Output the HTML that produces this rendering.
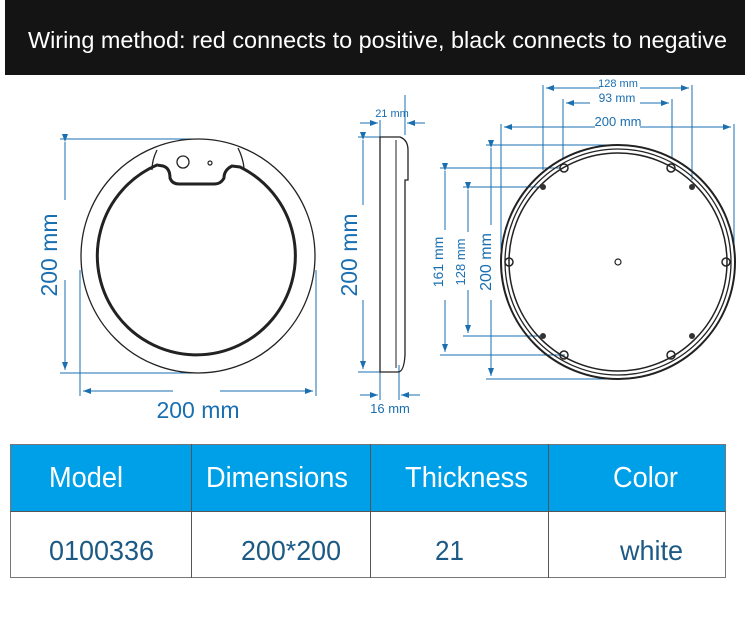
<!DOCTYPE html>
<html><head><style>
body{margin:0;width:750px;height:629px;background:#fff;overflow:hidden;font-family:"Liberation Sans",sans-serif}
</style></head><body>
<svg width="750" height="629" xmlns="http://www.w3.org/2000/svg" style="position:absolute;left:0;top:0">
<defs><marker id="a" markerWidth="8" markerHeight="6" refX="8" refY="3" orient="auto" markerUnits="userSpaceOnUse"><path d="M0,0L8,3L0,6z" fill="#1a6fb0"/></marker></defs>
<rect x="5" y="0" width="740" height="75" fill="#141414"/>
<text x="28" y="48" fill="#fff" font-size="23" textLength="699" lengthAdjust="spacingAndGlyphs">Wiring method: red connects to positive, black connects to negative</text>
<g fill="none" stroke="#1a6fb0" stroke-width="1">
<line x1="60" y1="139" x2="200" y2="139"/><line x1="60" y1="373" x2="200" y2="373"/>
<line x1="65" y1="142" x2="65" y2="200" marker-start="url(#a)"/><line x1="65" y1="280" x2="65" y2="370" marker-end="url(#a)"/>
<line x1="80" y1="270" x2="80" y2="396"/><line x1="316" y1="270" x2="316" y2="396"/>
<line x1="173" y1="391" x2="83" y2="391" marker-end="url(#a)"/><line x1="220" y1="391" x2="313" y2="391" marker-end="url(#a)"/>
<line x1="358" y1="137" x2="380" y2="137"/><line x1="358" y1="372" x2="380" y2="372"/>
<line x1="363" y1="140" x2="363" y2="205" marker-start="url(#a)"/><line x1="363" y1="300" x2="363" y2="369" marker-end="url(#a)"/>
<line x1="380" y1="120" x2="380" y2="137"/><line x1="405" y1="95" x2="405" y2="135"/>
<line x1="360" y1="123" x2="378" y2="123" marker-end="url(#a)"/><line x1="425" y1="123" x2="407" y2="123" marker-end="url(#a)"/>
<line x1="380" y1="372" x2="380" y2="400"/><line x1="399" y1="365" x2="399" y2="400"/>
<line x1="360" y1="395" x2="378" y2="395" marker-end="url(#a)"/><line x1="420" y1="395" x2="401" y2="395" marker-end="url(#a)"/>
<line x1="543" y1="85" x2="543" y2="170"/><line x1="692" y1="85" x2="692" y2="180"/>
<line x1="600" y1="88" x2="546" y2="88" marker-end="url(#a)"/><line x1="640" y1="88" x2="689" y2="88" marker-end="url(#a)"/>
<line x1="563" y1="99" x2="563" y2="158"/><line x1="672" y1="99" x2="672" y2="158"/>
<line x1="590" y1="103" x2="566" y2="103" marker-end="url(#a)"/><line x1="640" y1="103" x2="669" y2="103" marker-end="url(#a)"/>
<line x1="501" y1="124" x2="501" y2="250"/><line x1="734" y1="124" x2="734" y2="250"/>
<line x1="595" y1="127" x2="504" y2="127" marker-end="url(#a)"/><line x1="640" y1="127" x2="731" y2="127" marker-end="url(#a)"/>
<line x1="440" y1="168" x2="560" y2="168"/><line x1="440" y1="355" x2="565" y2="355"/>
<line x1="445" y1="171" x2="445" y2="230" marker-start="url(#a)"/><line x1="445" y1="300" x2="445" y2="352" marker-end="url(#a)"/>
<line x1="463" y1="187" x2="545" y2="187"/><line x1="463" y1="336" x2="545" y2="336"/>
<line x1="468" y1="190" x2="468" y2="232" marker-start="url(#a)"/><line x1="468" y1="290" x2="468" y2="333" marker-end="url(#a)"/>
<line x1="486" y1="145" x2="618" y2="145"/><line x1="486" y1="379" x2="618" y2="379"/>
<line x1="491" y1="148" x2="491" y2="225" marker-start="url(#a)"/><line x1="491" y1="300" x2="491" y2="376" marker-end="url(#a)"/>
</g>
<g fill="#1a6fb0">
<text x="198" y="418" font-size="23" text-anchor="middle">200 mm</text>
<text transform="translate(57,255) rotate(-90)" font-size="23" text-anchor="middle">200 mm</text>
<text transform="translate(357,255) rotate(-90)" font-size="23" text-anchor="middle">200 mm</text>
<text x="392" y="117" font-size="11" text-anchor="middle">21 mm</text>
<text x="390" y="413" font-size="13" text-anchor="middle">16 mm</text>
<text x="618" y="87" font-size="11" text-anchor="middle">128 mm</text>
<text x="617" y="102" font-size="12" text-anchor="middle">93 mm</text>
<text x="618" y="126" font-size="13" text-anchor="middle">200 mm</text>
<text transform="translate(443,262) rotate(-90)" font-size="14" text-anchor="middle">161 mm</text>
<text transform="translate(465,262) rotate(-90)" font-size="13" text-anchor="middle">128 mm</text>
<text transform="translate(491,262) rotate(-90)" font-size="16" text-anchor="middle">200 mm</text>
</g>
<g fill="none" stroke="#222">
<circle cx="198" cy="256" r="117" stroke-width="1.3"/>
<path d="M157,150 Q152,160 152,170" stroke-width="1.3"/><path d="M238,148 Q243,158 244,168" stroke-width="1.3"/>
<path d="M157,165 A99,99 0 1,0 240,167 L232,166 Q224,170 224,178 Q221,184 214,184 L179,184 Q172,184 170,178 Q170,168 163,166 Z" stroke-width="3"/>
<circle cx="183" cy="162" r="6" stroke-width="1.3"/><circle cx="210" cy="163" r="2" stroke-width="1.2"/>
<path d="M380,137 L400,137 Q408,140 408,150 L408,180 L405,180 L405,355 Q404,372 398,372 L380,372 Z" stroke-width="1.3"/>
<line x1="396" y1="140" x2="396" y2="368"/>
<circle cx="618" cy="262" r="117" stroke-width="2"/>
<circle cx="618" cy="262" r="113" stroke-width="1.3"/>
<circle cx="618" cy="262" r="109" stroke-width="1.5"/>
<circle cx="618" cy="262" r="3" stroke-width="1.2"/>
<g stroke-width="1.5">
<circle cx="564" cy="168" r="4"/><circle cx="671" cy="168" r="4"/><circle cx="564" cy="355" r="4"/><circle cx="671" cy="355" r="4"/>
<circle cx="509" cy="262" r="4"/><circle cx="726" cy="262" r="4"/>
</g>
</g>
<g fill="#333"><circle cx="543" cy="187" r="3"/><circle cx="692" cy="187" r="3"/><circle cx="543" cy="336" r="3"/><circle cx="692" cy="336" r="3"/></g>
<rect x="10" y="444" width="716" height="67" fill="#00a0e9"/>
<rect x="10.5" y="444.5" width="715" height="133" fill="none" stroke="#777"/>
<g stroke="#555"><line x1="10" y1="511.5" x2="726" y2="511.5"/>
<line x1="191.5" y1="444" x2="191.5" y2="578"/><line x1="370.5" y1="444" x2="370.5" y2="578"/><line x1="548.5" y1="444" x2="548.5" y2="578"/></g>
<g font-size="29" fill="#fff">
<text x="49" y="487" textLength="74" lengthAdjust="spacingAndGlyphs">Model</text>
<text x="206" y="487" textLength="142" lengthAdjust="spacingAndGlyphs">Dimensions</text>
<text x="405" y="487" textLength="123" lengthAdjust="spacingAndGlyphs">Thickness</text>
<text x="613" y="487" textLength="65" lengthAdjust="spacingAndGlyphs">Color</text></g>
<g font-size="28" fill="#1c5a85">
<text x="49" y="560" textLength="105" lengthAdjust="spacingAndGlyphs">0100336</text>
<text x="241" y="560" textLength="100" lengthAdjust="spacingAndGlyphs">200*200</text>
<text x="435" y="560" textLength="29" lengthAdjust="spacingAndGlyphs">21</text>
<text x="620" y="560" textLength="63" lengthAdjust="spacingAndGlyphs">white</text></g>
</svg>
</body></html>
